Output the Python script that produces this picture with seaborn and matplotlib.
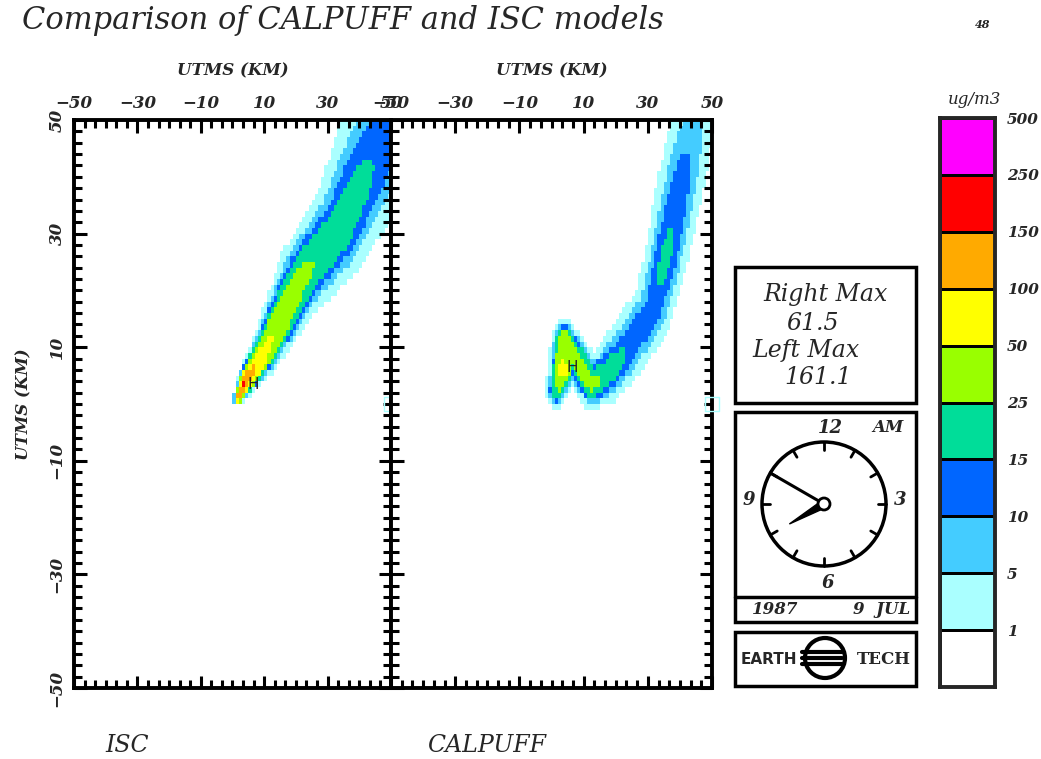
import numpy as np
import pandas as pd
import seaborn as sns
import matplotlib.pyplot as plt
from matplotlib.colors import ListedColormap, BoundaryNorm
from matplotlib.patches import Rectangle, Circle, Polygon

sns.set_style("white")
plt.rcParams['font.family'] = ['DejaVu Serif']

# concentration classes (ug/m3) and their colours
levels = [0, 1, 5, 10, 15, 25, 50, 100, 150, 250, 500]
level_colors = ['#ffffff', '#aaffff', '#44ccff', '#0066ff', '#00dd99',
                '#99ff00', '#ffff00', '#ffaa00', '#ff0000', '#ff00ff']
level_labels = ['500', '250', '150', '100', '50', '25', '15', '10', '5', '1']

# ISC plume: centre line (km), peak concentration, outer half width (km)
isc_x = [1.6, 4.0, 11.0, 21.5, 34.0, 44.0, 53.0]
isc_y = [1.0, 3.8, 10.0, 22.0, 31.0, 43.0, 52.0]
isc_peak = [120, 161.1, 55, 28, 20, 15, 12]
isc_half = [1.5, 2.8, 4.8, 7.5, 9.5, 12.0, 14.0]

# CALPUFF plume
cal_x = [1.5, 3.3, 3.8, 7.5, 12.5, 17.5, 24.5, 31.7, 35.3, 38.9, 41.4, 43.5, 45.0]
cal_y = [2.5, 6.0, 11.0, 8.0, 3.5, 5.5, 10.5, 16.7, 25.0, 35.0, 42.0, 47.4, 53.0]
cal_peak = [25, 61.5, 40, 35, 30, 20, 14, 13, 17, 14, 11, 8, 5]
cal_half = [3.5, 4.5, 4.0, 4.5, 4.5, 5.5, 6.0, 6.0, 6.5, 7.0, 7.0, 6.5, 6.0]

receptor_x = [50]
receptor_y = [0]

right_max = 61.5
left_max = 161.1
clock_hour, clock_minute = 8, 50
date_year, date_day, date_month = 1987, 9, 'JUL'
frame_no = 48

W, H = 1041, 759
grid_x = np.arange(-49.5, 50, 1.0)
grid_y = np.arange(49.5, -50, -1.0)
gx, gy = np.meshgrid(grid_x, grid_y)


def plume_field(px, py, peak, half, p=2.5):
    px, py = np.asarray(px, float), np.asarray(py, float)
    lp, hw = np.log(peak), np.asarray(half, float)
    field = np.zeros_like(gx)
    for i in range(len(px) - 1):
        dx, dy = px[i + 1] - px[i], py[i + 1] - py[i]
        t = ((gx - px[i]) * dx + (gy - py[i]) * dy) / (dx * dx + dy * dy)
        t = np.clip(t, 0, 1)
        d = np.hypot(gx - (px[i] + t * dx), gy - (py[i] + t * dy))
        c0 = lp[i] + t * (lp[i + 1] - lp[i])
        w = hw[i] + t * (hw[i + 1] - hw[i])
        field = np.maximum(field, np.exp(c0 * (1 - (d / w) ** p)))
    return field


def fig_rect(x0, y0, x1, y1):
    return [x0 / W, 1 - y1 / H, (x1 - x0) / W, (y1 - y0) / H]


cmap = ListedColormap(level_colors)
norm = BoundaryNorm(levels, cmap.N)
tick_font = dict(family='DejaVu Serif', style='italic', weight='bold', size=12)

fig = plt.figure(figsize=(W / 100, H / 100), dpi=100)

panels = [
    (fig_rect(74, 120, 391, 688), isc_x, isc_y, isc_peak, isc_half, True),
    (fig_rect(391, 120, 712, 688), cal_x, cal_y, cal_peak, cal_half, False),
]
for rect, px, py, pk, hw, first in panels:
    ax = fig.add_axes(rect)
    conc = plume_field(px, py, pk, hw)
    df = pd.DataFrame(conc, index=grid_y, columns=grid_x)
    sns.heatmap(df, ax=ax, cmap=cmap, norm=norm, cbar=False,
                xticklabels=False, yticklabels=False)
    ax.set_axisbelow(False)
    # marker for the max cell
    j, i = np.unravel_index(np.argmax(conc), conc.shape)
    ax.text(i + 1.6, j + 0.5, 'H', fontsize=11, family='DejaVu Sans',
            ha='left', va='center')
    ax.scatter([x + 50 for x in receptor_x], [50 - y for y in receptor_y],
               marker='s', s=90, facecolors='none', edgecolors='#aaffff',
               linewidths=1, clip_on=False, zorder=5)

    major = [-50, -30, -10, 10, 30, 50]
    ax.set_xticks([k + 50 for k in major])
    ax.set_xticklabels([str(k).replace('-', '\u2212') for k in major], **tick_font)
    ax.set_xticks([k * 10 / 3 for k in range(31) if k % 6 != 0], minor=True)
    ax.set_yticks([50 - k for k in major])
    ax.set_yticks([k * 2 for k in range(51) if k % 10 != 0], minor=True)
    if first:
        ax.set_yticklabels([str(k).replace('-', '\u2212') for k in major], **tick_font)
        plt.setp(ax.get_yticklabels(), rotation=90, va='center')
        ax.set_ylabel('UTMS (KM)', **tick_font, labelpad=12)
    else:
        ax.set_yticklabels([])
    ax.tick_params(axis='x', which='both', direction='in', top=True, bottom=True,
                   labeltop=True, labelbottom=False, pad=6)
    ax.tick_params(axis='y', which='both', direction='in', left=True, right=True,
                   labelleft=first, labelright=False, pad=6)
    ax.tick_params(which='major', length=9, width=2.2, color='black')
    ax.tick_params(which='minor', length=6, width=2.2, color='black')
    ax.xaxis.set_label_position('top')
    ax.set_xlabel('UTMS (KM)', **tick_font, labelpad=14)
    for s in ax.spines.values():
        s.set_visible(True)
        s.set_linewidth(2.8)
        s.set_color('black')

# colour key
cax = fig.add_axes(fig_rect(940, 118, 995, 687))
key = pd.DataFrame({'c': [(levels[k] + levels[k + 1]) / 2 for k in range(10)][::-1]})
sns.heatmap(key, ax=cax, cmap=cmap, norm=norm, cbar=False, linewidths=2,
            linecolor='black', xticklabels=False, yticklabels=False)
cax.set_yticks(range(10))
cax.set_yticklabels(level_labels, **{**tick_font, 'size': 11})
cax.tick_params(axis='y', left=False, right=False, labelleft=False,
                labelright=True, pad=5)
for s in cax.spines.values():
    s.set_visible(True)
    s.set_linewidth(2.8)

# overlay in pixel coordinates for text boxes, clock and logo
ov = fig.add_axes([0, 0, 1, 1])
ov.set_xlim(0, W)
ov.set_ylim(H, 0)
ov.axis('off')
ov.patch.set_alpha(0)

ov.text(22, 20, 'Comparison of CALPUFF and ISC models', fontsize=22,
        style='italic', ha='left', va='center')
ov.text(983, 25, str(frame_no), fontsize=8, style='italic', weight='bold',
        ha='center', va='center')
ov.text(975, 100, 'ug/m3', fontsize=12, style='italic', ha='center', va='center')
ov.text(127, 745, 'ISC', fontsize=17, style='italic', ha='center', va='center')
ov.text(487, 745, 'CALPUFF', fontsize=17, style='italic', ha='center', va='center')

box_kw = dict(fill=False, lw=2.5, ec='black')
ov.add_patch(Rectangle((735, 267), 181, 136, **box_kw))
info = [('Right Max', 826, 295), (f'{right_max}', 813, 323),
        ('Left Max', 806, 350), (f'{left_max}', 818, 378)]
for s, x, y in info:
    ov.text(x, y, s, fontsize=17, style='italic', ha='center', va='center')

# clock
ov.add_patch(Rectangle((735, 412), 181, 210, **box_kw))
ov.plot([735, 916], [597, 597], color='black', lw=2.5)
cx, cy, r = 824, 504, 62
ov.add_patch(Circle((cx, cy), r, fill=False, lw=2.5, ec='black'))
for h in range(12):
    a = np.radians(h * 30)
    ov.plot([cx + (r - 8) * np.sin(a), cx + r * np.sin(a)],
            [cy - (r - 8) * np.cos(a), cy - r * np.cos(a)], color='black', lw=2)
for s, x, y in [('12', 830, 428), ('9', 749, 500), ('3', 900, 500), ('6', 828, 583)]:
    ov.text(x, y, s, fontsize=13, style='italic', weight='bold', ha='center', va='center')
ov.text(888, 428, 'AM', fontsize=12, style='italic', weight='bold', ha='center', va='center')
am = np.radians(clock_minute * 6)
ov.plot([cx, cx + r * np.sin(am)], [cy, cy - r * np.cos(am)], color='black', lw=2.2)
ah = np.radians((clock_hour % 12) * 30)
tip = (cx + 40 * np.sin(ah), cy - 40 * np.cos(ah))
perp = (np.cos(ah) * 4, np.sin(ah) * 4)
ov.add_patch(Polygon([(cx + perp[0], cy + perp[1]), tip, (cx - perp[0], cy - perp[1])],
                     closed=True, color='black'))
ov.add_patch(Circle((cx, cy), 6, fc='white', ec='black', lw=2, zorder=5))
ov.text(775, 609, str(date_year), fontsize=12, style='italic', weight='bold',
        ha='center', va='center')
ov.text(882, 609, f'{date_day}  {date_month}', fontsize=12, style='italic',
        weight='bold', ha='center', va='center')

# logo
ov.add_patch(Rectangle((735, 632), 181, 54, **box_kw))
ov.text(741, 659, 'EARTH', fontsize=11, family='DejaVu Sans', weight='bold',
        ha='left', va='center')
ov.add_patch(Circle((825, 658), 20, fill=False, lw=3, ec='black'))
for yy in [651.5, 657.5, 663.5]:
    ov.plot([802, 842], [yy, yy], color='black', lw=3)
ov.text(884, 659, 'TECH', fontsize=12, weight='bold', ha='center', va='center')

fig.savefig('out.png', dpi=100)
